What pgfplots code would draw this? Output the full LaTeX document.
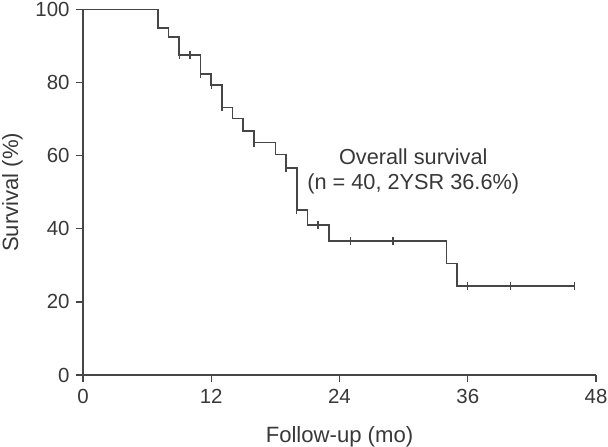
\documentclass[border=0pt]{standalone}
\usepackage{fontspec}
\setmainfont{Liberation Sans}
\usepackage{pgfplots}
\pgfplotsset{compat=1.18}
\definecolor{ln}{HTML}{464646}
\definecolor{tx}{HTML}{383838}
\begin{document}
\begin{tikzpicture}
\path[use as bounding box] (0,0) rectangle (608bp,447bp);
\begin{axis}[
  at={(83bp,72bp)}, anchor=origin,
  scale only axis, width=513bp, height=365.5bp,
  xmin=0, xmax=48, ymin=0, ymax=100,
  axis lines=left, axis line style={-, ln, line width=1.4bp},
  xtick={0,12,24,36,48}, ytick={0,20,40,60,80,100},
  tick align=outside, major tick length=7bp,
  tick style={ln, line width=1.4bp},
  /pgf/number format/assume math mode=true,
  ticklabel style={font=\fontsize{20.5}{22}\selectfont, text=tx},
  yticklabel style={xshift=-3bp},
  xticklabel style={yshift=-4bp},
  xlabel={Follow-up (mo)}, ylabel={Survival (\%)},
  label style={font=\fontsize{22.2}{24}\selectfont, text=tx},
  xlabel style={at={(axis description cs:0.5,0)}, anchor=center, yshift=-62bp},
  ylabel style={at={(axis description cs:0,0.5)}, anchor=center, yshift=70.5bp},
  clip=false,
]
\addplot[const plot, ln, line width=1.7bp] coordinates {
(0,100) (7,95) (8,92.5) (9,87.5) (11,82.3) (12,79.4) (13,73.2) (14,70.2) (15,66.8) (16,63.6) (18,60.3) (19,56.6) (20,45.2) (21,41.1) (23,36.6) (34,30.5) (35,24.3) (46,24.3)
};
\addplot[only marks, mark=|, mark size=4bp, mark options={ln, line width=1.3bp}] coordinates {
(9,87.5) (10,87.5) (11,82.3) (12,79.4) (13,73.2) (16,63.6) (19,56.6) (20,45.2) (22,41.1) (25,36.6) (29,36.6) (36,24.3) (40,24.3) (46,24.3)
};
\node[font=\fontsize{21.8}{24}\selectfont, text=tx] at (axis cs:30.9,59.7) {Overall survival};
\node[font=\fontsize{21.8}{24}\selectfont, text=tx] at (axis cs:30.9,52.3) {(n = 40, 2YSR 36.6\%)};
\end{axis}
\end{tikzpicture}
\end{document}
